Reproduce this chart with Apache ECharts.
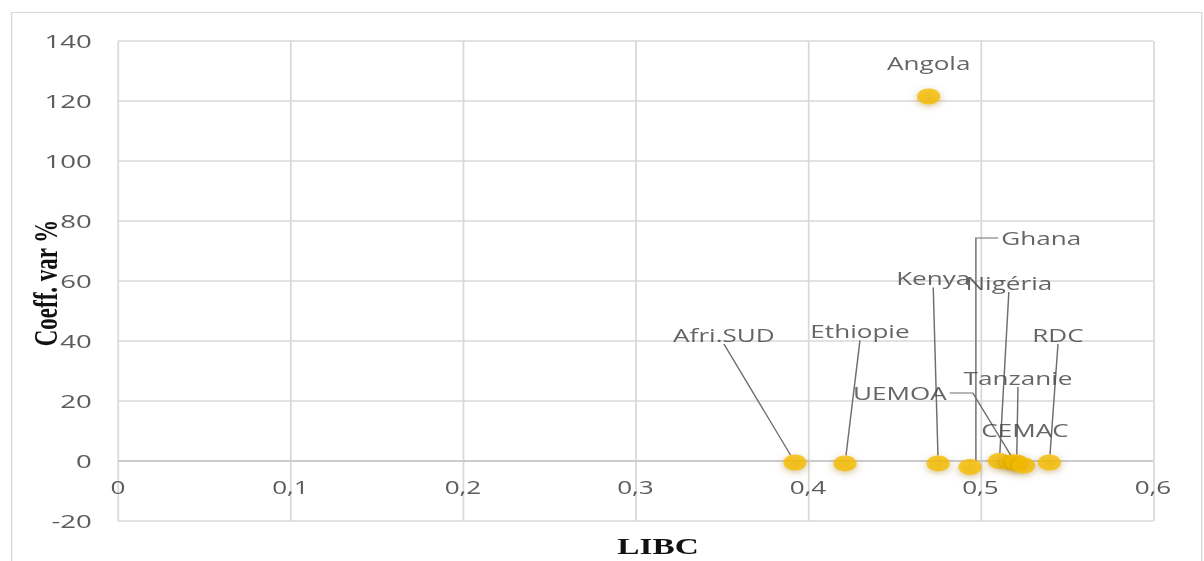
<!DOCTYPE html>
<html>
<head>
<meta charset="utf-8">
<script src="https://cdn.jsdelivr.net/npm/echarts@6/dist/echarts.min.js"></script>
<style>
  html, body { margin: 0; padding: 0; background: #ffffff; }
  #wrap { width: 1204px; height: 561px; overflow: hidden; position: relative; }
  /* the chart is laid out narrow and widened horizontally */
  #chart { width: 830px; height: 561px; transform: scaleX(1.450602); transform-origin: 0 0; }
</style>
</head>
<body>
<div id="wrap"><div id="chart"></div></div>
<script>
// Countries / regions and their values
const countries = ['Angola', 'Afri.SUD', 'Ethiopie', 'Kenya', 'Ghana', 'Nigéria', 'UEMOA', 'Tanzanie', 'CEMAC', 'RDC'];
const libc      = [0.470, 0.3925, 0.4215, 0.4755, 0.494, 0.511, 0.518, 0.521, 0.525, 0.540];
const coeffVar  = [121.5, -0.5, -0.8, -0.8, -2.0, 0.0, -0.5, -0.5, -1.5, -0.5];

// Axis ticks
const xTicks = [0, 0.1, 0.2, 0.3, 0.4, 0.5, 0.6];
const yTicks = [-20, 0, 20, 40, 60, 80, 100, 120, 140];

const xTitle = 'LIBC';
const yTitle = 'Coeff. var %';

// Label placement relative to each marker (screen px)
const labelOffsets = {
  'Angola':   [0, -33.5],
  'Afri.SUD': [-49, -127.5],
  'Ethiopie': [10.3, -132],
  'Kenya':    [-3.4, -185],
  'Ghana':    [49, -229],
  'Nigéria':  [6.5, -178],
  'UEMOA':    [-77, -69.5],
  'Tanzanie': [0.9, -84.5],
  'CEMAC':    [1, -35.5],
  'RDC':      [5.9, -127.5]
};
// labels drawn without the automatic leader line
const noLeader = ['Angola', 'CEMAC', 'Ghana', 'UEMOA'];
// leaders that leave the label sideways with a short horizontal stub
const sideLeaders = {
  'Ghana': { side: 'left', stub: 14, shift: 4 },
  'UEMOA': { side: 'right', stub: 16, shift: 0 }
};

const markerSize = 16;
const labelFont = { size: 18, family: 'Open Sans' };
const leaderStyle = { stroke: '#6e6e6e', lineWidth: 1 };

const points = countries.map((name, i) => {
  const item = { name: name, value: [libc[i], coeffVar[i]] };
  if (noLeader.indexOf(name) >= 0) item.labelLine = { show: false };
  return item;
});
const sidePoints = countries
  .map((name, i) => [libc[i], coeffVar[i], i])
  .filter(d => sideLeaders[countries[d[2]]]);

const measureCtx = document.createElement('canvas').getContext('2d');
function textWidth(t) {
  measureCtx.font = labelFont.size + 'px "' + labelFont.family + '"';
  return measureCtx.measureText(t).width;
}

const fmtX = v => (v === 0 ? '0' : String(+v.toFixed(1)).replace('.', ','));

const option = {
  backgroundColor: '#ffffff',
  animation: false,
  grid: { left: 81.3, right: 35.2, top: 41, bottom: 40, containLabel: false },
  xAxis: {
    type: 'value',
    min: xTicks[0],
    max: xTicks[xTicks.length - 1],
    interval: xTicks[1] - xTicks[0],
    axisLine: { show: false, onZero: false },
    axisTick: { show: false },
    // labels sit just under the zero line, inside the plot
    axisLabel: { formatter: fmtX, margin: -43, color: '#5c5c5c', fontSize: 18, fontFamily: 'Open Sans' },
    splitLine: { show: true, lineStyle: { color: '#d9d9d9', width: 1.2 } }
  },
  yAxis: {
    type: 'value',
    min: yTicks[0],
    max: yTicks[yTicks.length - 1],
    interval: yTicks[1] - yTicks[0],
    axisLine: { show: false },
    axisTick: { show: false },
    axisLabel: { margin: 18, color: '#5c5c5c', fontSize: 19, fontFamily: 'Open Sans' },
    splitLine: { show: true, lineStyle: { color: '#d9d9d9', width: 1.5 } }
  },
  graphic: [
    {
      type: 'rect', left: 5.5, top: 10, z: -1,
      shape: { width: 820.4, height: 570 },
      style: { fill: 'none', stroke: '#d9d9d9', lineWidth: 1 }
    },
    {
      type: 'text', x: 453.6, y: 546,
      style: { text: xTitle, font: 'bold 23px "Liberation Serif"', fill: '#111111', align: 'center', verticalAlign: 'middle' }
    },
    {
      type: 'text', x: 31, y: 283, rotation: Math.PI / 2,
      style: { text: yTitle, font: 'bold 23px "Liberation Serif"', fill: '#111111', align: 'center', verticalAlign: 'middle' }
    }
  ],
  series: [
    {
      // elbow leaders from the side of a label down to its marker
      type: 'custom',
      silent: true,
      z: 1,
      data: sidePoints,
      renderItem: function (params, api) {
        const i = api.value(2);
        const name = countries[i];
        const p = api.coord([api.value(0), api.value(1)]);
        const o = labelOffsets[name];
        const s = sideLeaders[name];
        const w = textWidth(name);
        const midY = p[1] + o[1];
        const top = p[1] - markerSize / 2 + 2;
        let pts;
        if (s.side === 'left') {
          const lx = p[0] + o[0] - w / 2 - 2;
          pts = [[lx, midY], [p[0] + s.shift, midY], [p[0] + s.shift, top]];
        } else {
          const rx = p[0] + o[0] + w / 2 + 2;
          pts = [[rx, midY], [rx + s.stub, midY], [p[0], top]];
        }
        return { type: 'polyline', shape: { points: pts }, style: { stroke: leaderStyle.stroke, lineWidth: leaderStyle.lineWidth, fill: 'none' } };
      }
    },
    {
      type: 'scatter',
      z: 3,
      data: points,
      symbol: 'circle',
      symbolSize: markerSize,
      itemStyle: {
        color: '#F5BC00',
        shadowColor: 'rgba(150, 105, 0, 0.5)',
        shadowBlur: 6,
        shadowOffsetY: 2
      },
      label: {
        show: true,
        position: 'inside',
        formatter: p => p.name,
        color: '#3f3f3f',
        fontSize: labelFont.size,
        fontFamily: labelFont.family
      },
      labelLine: { show: true, lineStyle: { color: leaderStyle.stroke, width: leaderStyle.lineWidth } },
      labelLayout: function (params) {
        const o = labelOffsets[countries[params.dataIndex]];
        return { dx: o[0], dy: o[1] };
      },
      markLine: {
        silent: true,
        symbol: 'none',
        label: { show: false },
        lineStyle: { color: '#cccccc', width: 2, type: 'solid' },
        data: [{ yAxis: 0 }],
        z: 1
      }
    }
  ]
};

const chart = echarts.init(document.getElementById('chart'), null, { renderer: 'svg' });
chart.setOption(option);
</script>
</body>
</html>
